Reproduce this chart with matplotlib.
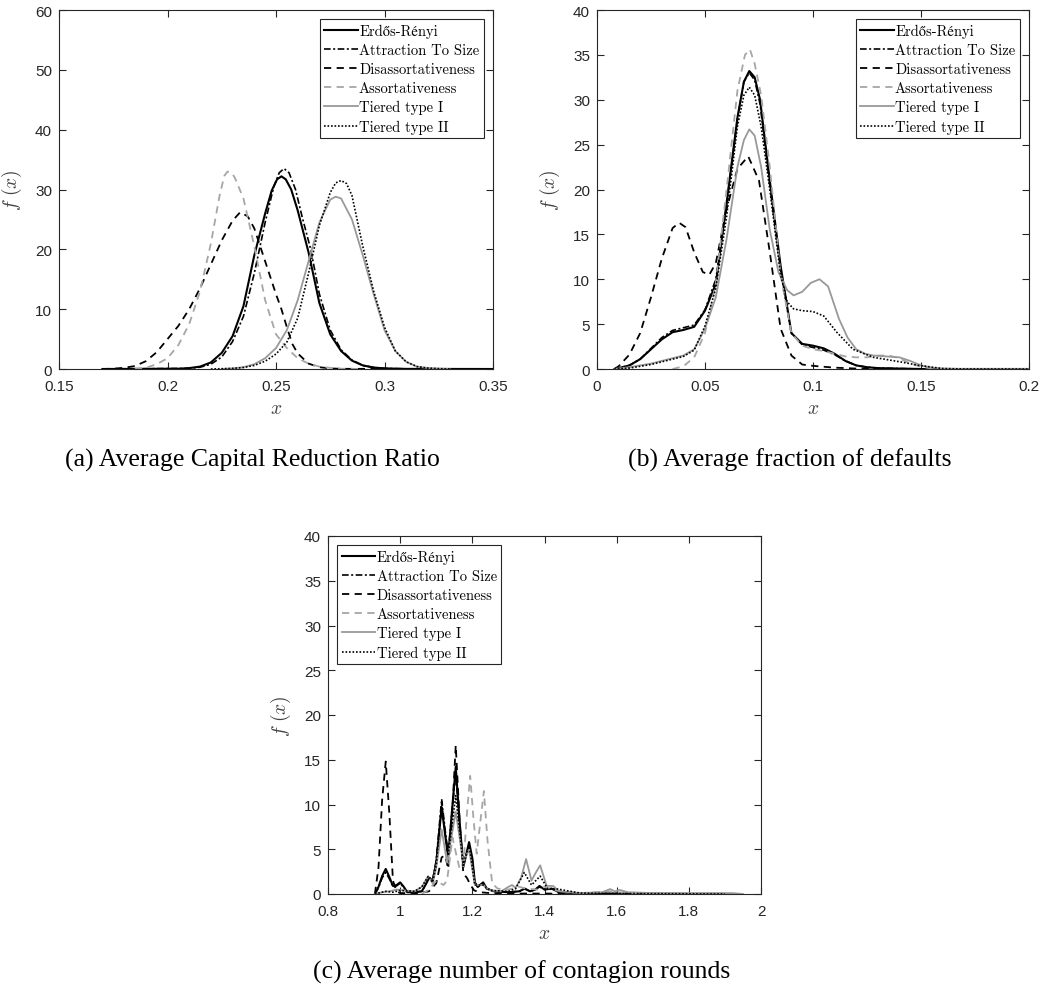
import matplotlib
matplotlib.use("Agg")
import matplotlib.pyplot as plt
from matplotlib.ticker import FixedLocator, FixedFormatter

plt.rcParams['mathtext.fontset'] = 'cm'
plt.rcParams['font.family'] = ['Liberation Sans', 'DejaVu Sans']

labels = ["Erdős-Rényi", "Attraction To Size", "Disassortativeness",
          "Assortativeness", "Tiered type I", "Tiered type II"]

# ---- (a) Average Capital Reduction Ratio ----
a_er_x = [0.17, 0.205, 0.21, 0.215, 0.22, 0.225, 0.23, 0.235, 0.24, 0.245, 0.248, 0.2505, 0.2525, 0.2545,
          0.257, 0.26, 0.265, 0.27, 0.275, 0.28, 0.285, 0.29, 0.295, 0.3, 0.31, 0.35]
a_er_y = [0, 0.05, 0.15, 0.4, 1.1, 2.7, 5.5, 10.5, 19, 26, 29.8, 31.7, 32.2, 31.7,
          30, 26.5, 19.5, 11, 5.8, 3.0, 1.4, 0.6, 0.25, 0.1, 0.02, 0]
a_ats_x = [0.17, 0.21, 0.215, 0.22, 0.225, 0.23, 0.235, 0.24, 0.245, 0.249, 0.2515, 0.2537, 0.256, 0.259,
           0.262, 0.266, 0.27, 0.275, 0.28, 0.285, 0.29, 0.295, 0.3, 0.31, 0.35]
a_ats_y = [0, 0.1, 0.3, 0.8, 2.0, 4.6, 8.8, 16.0, 24.5, 30.5, 32.8, 33.5, 32.8, 30,
           25.5, 20, 12.5, 6.5, 3.2, 1.5, 0.6, 0.25, 0.1, 0.02, 0]
a_dis_x = [0.17, 0.175, 0.18, 0.185, 0.19, 0.195, 0.2, 0.205, 0.21, 0.215, 0.22, 0.225, 0.23, 0.2335,
           0.237, 0.24, 0.245, 0.25, 0.2525, 0.255, 0.2575, 0.26, 0.265, 0.27, 0.275, 0.28, 0.35]
a_dis_y = [0, 0.05, 0.2, 0.5, 1.3, 2.8, 5, 7.2, 10, 13.5, 17.5, 21.5, 24.8, 26.2,
           25.5, 23.5, 18, 12.5, 10, 7, 4.2, 2.6, 0.9, 0.3, 0.1, 0.03, 0]
a_ass_x = [0.185, 0.19, 0.195, 0.2, 0.205, 0.21, 0.215, 0.22, 0.224, 0.2262, 0.2277, 0.2295, 0.231, 0.235,
           0.24, 0.245, 0.25, 0.255, 0.26, 0.265, 0.27, 0.275, 0.28, 0.29]
a_ass_y = [0, 0.2, 0.8, 1.8, 4, 7.5, 13, 21, 29, 32.3, 33, 32.8, 32.0, 28.5,
           20.5, 11.5, 5.8, 3.5, 1.8, 0.9, 0.4, 0.2, 0.05, 0]
a_t1_x = [0.225, 0.23, 0.235, 0.24, 0.245, 0.25, 0.255, 0.26, 0.265, 0.27, 0.275, 0.2775, 0.28, 0.285,
          0.29, 0.295, 0.3, 0.305, 0.31, 0.315, 0.32, 0.325, 0.33]
a_t1_y = [0, 0.1, 0.3, 0.8, 1.8, 3.5, 6.5, 11.5, 18, 24.5, 28.3, 28.8, 28.5, 25,
          19, 12.5, 6.5, 3, 1.2, 0.4, 0.15, 0.05, 0]
a_t2_x = [0.22, 0.225, 0.23, 0.235, 0.24, 0.245, 0.25, 0.255, 0.26, 0.265, 0.27, 0.275, 0.2775, 0.28,
          0.2825, 0.285, 0.29, 0.295, 0.3, 0.305, 0.31, 0.315, 0.32, 0.325, 0.33, 0.35]
a_t2_y = [0, 0.05, 0.1, 0.25, 0.6, 1.3, 2.5, 4.5, 8.5, 16, 24, 29.5, 31.1, 31.5,
          31.0, 29, 20.5, 13, 7, 3, 1.2, 0.4, 0.15, 0.05, 0.02, 0]

# ---- (b) Average fraction of defaults ----
b_er_x = [0.008, 0.01, 0.015, 0.02, 0.025, 0.03, 0.035, 0.04, 0.045, 0.05, 0.055, 0.06, 0.065, 0.068,
          0.0705, 0.073, 0.0755, 0.08, 0.085, 0.09, 0.095, 0.1, 0.105, 0.11, 0.115, 0.12, 0.125, 0.13,
          0.14, 0.15, 0.2]
b_er_y = [0, 0.1, 0.4, 1.1, 2.2, 3.3, 4.1, 4.35, 4.7, 6.5, 9.5, 18.5, 28.0, 32.0,
          33.2, 32.5, 30.0, 21.0, 11.5, 4.0, 2.8, 2.6, 2.3, 1.7, 0.9, 0.4, 0.2, 0.1,
          0.05, 0, 0]
b_ats_y = [0, 0.1, 0.4, 1.1, 2.3, 3.5, 4.3, 4.6, 4.9, 6.6, 10.0, 18.3, 27.8, 32.0,
           33.0, 32.2, 29.5, 20.5, 11.0, 4.0, 2.7, 2.4, 2.1, 1.6, 0.9, 0.4, 0.2, 0.1,
           0.05, 0, 0]
b_dis_x = [0.008, 0.01, 0.015, 0.02, 0.025, 0.03, 0.035, 0.038, 0.041, 0.045, 0.049, 0.052, 0.055, 0.06,
           0.065, 0.07, 0.075, 0.08, 0.085, 0.09, 0.095, 0.1, 0.11, 0.12, 0.13, 0.2]
b_dis_y = [0, 0.3, 1.6, 4.0, 8.0, 12.3, 15.7, 16.3, 15.8, 13.0, 10.8, 10.5, 11.8, 17.8,
           22.3, 23.7, 21.0, 13.0, 4.5, 1.5, 0.5, 0.35, 0.15, 0.05, 0, 0]
b_ass_x = [0.035, 0.04, 0.045, 0.05, 0.055, 0.06, 0.065, 0.0685, 0.0708, 0.073, 0.076, 0.08, 0.085, 0.09,
           0.095, 0.1, 0.105, 0.11, 0.115, 0.12, 0.125, 0.13, 0.135, 0.14, 0.145, 0.15, 0.155, 0.16]
b_ass_y = [0, 0.3, 1.3, 4, 9.5, 20, 31, 35, 35.6, 34, 30.5, 22.5, 10.5, 4,
           2.6, 2.2, 2.0, 1.7, 1.4, 1.3, 1.3, 1.5, 1.5, 1.2, 0.6, 0.25, 0.05, 0]
b_t1_x = [0.008, 0.015, 0.02, 0.025, 0.03, 0.035, 0.04, 0.045, 0.05, 0.055, 0.06, 0.065, 0.068, 0.0705,
          0.073, 0.076, 0.08, 0.084, 0.088, 0.091, 0.095, 0.099, 0.103, 0.107, 0.112, 0.116, 0.12, 0.124,
          0.128, 0.134, 0.14, 0.145, 0.15, 0.155, 0.16, 0.17, 0.2]
b_t1_y = [0, 0.2, 0.4, 0.6, 0.9, 1.2, 1.5, 2.2, 4.5, 8.0, 14.5, 22.5, 25.5, 26.7,
          26.0, 22.5, 15.5, 10.8, 8.8, 8.2, 8.6, 9.6, 10.0, 9.2, 5.6, 3.5, 2.2, 1.7,
          1.5, 1.4, 1.3, 0.9, 0.4, 0.15, 0.05, 0, 0]
b_t2_x = [0.008, 0.015, 0.02, 0.025, 0.03, 0.035, 0.04, 0.045, 0.05, 0.055, 0.06, 0.065, 0.068, 0.0705,
          0.073, 0.076, 0.08, 0.085, 0.088, 0.091, 0.095, 0.1, 0.105, 0.111, 0.1185, 0.128, 0.1415, 0.149,
          0.16, 0.17, 0.2]
b_t2_y = [0, 0.1, 0.3, 0.5, 0.8, 1.1, 1.4, 2.1, 4.8, 9.0, 17.0, 27.0, 30.5, 31.4,
          30.5, 27.0, 20.0, 10.5, 7.5, 6.7, 6.5, 6.4, 5.9, 4.1, 2.2, 1.3, 0.75, 0.4,
          0.05, 0, 0]

# ---- (c) Average number of contagion rounds ----
c_er_x = [0.93, 0.94, 0.95, 0.96, 0.97, 0.98, 0.99, 1.0, 1.01, 1.02, 1.04, 1.06, 1.07, 1.08, 1.09, 1.1,
          1.115, 1.125, 1.133, 1.143, 1.154, 1.165, 1.175, 1.191, 1.2, 1.207, 1.215, 1.23, 1.24, 1.26,
          1.3, 1.33, 1.345, 1.36, 1.375, 1.386, 1.4, 1.42, 1.44, 1.5, 1.6, 1.9]
c_er_y = [0, 0.8, 2.0, 2.8, 1.9, 0.9, 1.0, 1.3, 0.8, 0.2, 0.2, 0.3, 1.0, 1.8, 1.5, 3.5,
          9.7, 6.5, 4.1, 9.0, 14.2, 8.0, 3.0, 5.8, 4.0, 1.3, 0.8, 1.3, 0.6, 0.3,
          0.2, 0.3, 0.6, 0.3, 0.5, 0.9, 0.5, 0.6, 0.2, 0.05, 0.05, 0]
c_ats_y = [0, 0.7, 1.8, 2.4, 1.7, 0.8, 0.9, 1.2, 0.7, 0.2, 0.2, 0.3, 1.0, 1.9, 1.5, 3.8,
           10.6, 7.0, 4.5, 9.0, 13.5, 7.5, 3.3, 5.5, 3.8, 1.2, 0.8, 1.2, 0.6, 0.3,
           0.2, 0.3, 0.6, 0.3, 0.5, 0.8, 0.5, 0.6, 0.2, 0.05, 0.05, 0]
c_dis_x = [0.93, 0.94, 0.95, 0.96, 0.97, 0.98, 0.99, 1.0, 1.05, 1.08, 1.1, 1.115, 1.125, 1.133, 1.143,
           1.154, 1.165, 1.175, 1.185, 1.195, 1.205, 1.22, 1.25, 1.3, 1.4, 1.6]
c_dis_y = [0, 3.0, 10.5, 14.8, 9.0, 1.5, 0.3, 0.1, 0.1, 0.3, 1.2, 4.1, 4.3, 2.8, 8.0,
           16.6, 8.0, 2.3, 1.8, 1.0, 0.4, 0.2, 0.1, 0.05, 0.05, 0]
c_ass_x = [1.06, 1.08, 1.1, 1.12, 1.13, 1.145, 1.155, 1.165, 1.175, 1.185, 1.194, 1.203, 1.212, 1.222,
           1.232, 1.242, 1.255, 1.27, 1.3, 1.33, 1.35, 1.38, 1.4, 1.43, 1.5, 1.58, 1.6, 1.7]
c_ass_y = [0, 0.5, 1.5, 1.0, 1.5, 6.3, 4.5, 2.8, 3.0, 9.0, 13.2, 8.5, 4.5, 8.0,
           11.5, 6.0, 1.2, 0.6, 0.5, 0.8, 0.6, 0.5, 0.8, 0.4, 0.1, 0.3, 0.2, 0]
c_t1_x = [0.93, 0.95, 0.97, 0.99, 1.01, 1.04, 1.06, 1.078, 1.09, 1.1, 1.115, 1.13, 1.154, 1.175, 1.191,
          1.207, 1.23, 1.25, 1.28, 1.3, 1.31, 1.32, 1.335, 1.349, 1.364, 1.376, 1.388, 1.406, 1.424,
          1.44, 1.5, 1.56, 1.582, 1.595, 1.609, 1.63, 1.7, 1.8, 1.92, 1.95]
c_t1_y = [0, 0.2, 0.3, 0.5, 0.4, 0.3, 0.8, 2.0, 1.2, 3.0, 7.2, 3.5, 9.2, 3.5, 5.0,
          1.0, 1.0, 0.4, 0.3, 0.8, 1.0, 0.7, 1.8, 3.9, 1.5, 2.4, 3.2, 0.9, 0.9,
          0.3, 0.1, 0.2, 0.55, 0.3, 0.45, 0.2, 0.1, 0.1, 0.1, 0]
c_t2_x = [0.93, 0.95, 0.96, 0.98, 1.0, 1.04, 1.06, 1.078, 1.09, 1.1, 1.115, 1.133, 1.154, 1.175, 1.191,
          1.207, 1.23, 1.25, 1.3, 1.32, 1.344, 1.364, 1.388, 1.41, 1.43, 1.5, 1.6, 1.9]
c_t2_y = [0, 0.2, 0.3, 0.2, 0.4, 0.3, 0.8, 2.0, 1.3, 3.2, 10.0, 4.3, 11.0, 3.2, 5.5,
          1.0, 1.0, 0.4, 0.3, 0.6, 2.4, 1.0, 2.0, 0.5, 0.6, 0.1, 0.05, 0]

a_xticks = [0.15, 0.2, 0.25, 0.3, 0.35]
a_xticklabels = ["0.15", "0.2", "0.25", "0.3", "0.35"]
a_yticks = [0, 10, 20, 30, 40, 50, 60]
b_xticks = [0, 0.05, 0.1, 0.15, 0.2]
b_xticklabels = ["0", "0.05", "0.1", "0.15", "0.2"]
b_yticks = [0, 5, 10, 15, 20, 25, 30, 35, 40]
c_xticks = [0.8, 1.0, 1.2, 1.4, 1.6, 1.8, 2.0]
c_xticklabels = ["0.8", "1", "1.2", "1.4", "1.6", "1.8", "2"]
c_yticks = [0, 5, 10, 15, 20, 25, 30, 35, 40]

captions = ["(a) Average Capital Reduction Ratio", "(b) Average fraction of defaults",
            "(c) Average number of contagion rounds"]

AX_COL = '#262626'
GRAY = '#999999'
styles = [
    dict(color='k', lw=1.5, ls='-'),
    dict(color='k', lw=1.2, ls=(0, (4, 1.5, 1.2, 1.5))),
    dict(color='k', lw=1.3, ls=(0, (4, 3))),
    dict(color='#a6a6a6', lw=1.3, ls=(0, (4, 3))),
    dict(color=GRAY, lw=1.3, ls='-'),
    dict(color='k', lw=1.2, ls=(0, (1, 1.1))),
]


def draw(ax, data, xlim, xticks, xticklabels, ylim, yticks, loc):
    for (xs, ys), lab, st in zip(data, labels, styles):
        ax.plot(xs, ys, label=lab, **st)
    ax.set_xlim(xlim)
    ax.set_ylim(ylim)
    ax.xaxis.set_major_locator(FixedLocator(xticks))
    ax.xaxis.set_major_formatter(FixedFormatter(xticklabels))
    ax.set_yticks(yticks)
    ax.set_yticklabels([str(v) for v in yticks])
    ax.tick_params(direction='in', top=True, right=True, length=5, width=0.8,
                   colors=AX_COL, labelsize=11)
    ax.tick_params(axis='x', pad=7)
    ax.tick_params(axis='y', pad=5)
    for s in ax.spines.values():
        s.set_color(AX_COL)
        s.set_linewidth(0.8)
    ax.set_xlabel(r'$x$', fontsize=14, color='#404040', labelpad=5)
    ax.set_ylabel(r'$f\ (x)$', fontsize=14, color='#404040', labelpad=8)
    leg = ax.legend(loc=loc, prop={'family': ['cmr10', 'STIXGeneral'], 'size': 10.5},
                    handlelength=2.3, handletextpad=0.1, labelspacing=0.36, borderpad=0.3,
                    borderaxespad=0.65, fancybox=False, framealpha=1, edgecolor=AX_COL)
    leg.get_frame().set_linewidth(0.8)


fig = plt.figure(figsize=(10.44, 9.95), dpi=100)
W, H = 1044.0, 995.0


def add_axes(l, r, t, b):
    return fig.add_axes([l / W, 1 - b / H, (r - l) / W, (b - t) / H])


ax_a = add_axes(59, 493, 11, 370)
draw(ax_a, [(a_er_x, a_er_y), (a_ats_x, a_ats_y), (a_dis_x, a_dis_y),
            (a_ass_x, a_ass_y), (a_t1_x, a_t1_y), (a_t2_x, a_t2_y)],
     (0.15, 0.35), a_xticks, a_xticklabels, (0, 60), a_yticks, 'upper right')

ax_b = add_axes(597, 1029, 11, 370)
draw(ax_b, [(b_er_x, b_er_y), (b_er_x, b_ats_y), (b_dis_x, b_dis_y),
            (b_ass_x, b_ass_y), (b_t1_x, b_t1_y), (b_t2_x, b_t2_y)],
     (0, 0.2), b_xticks, b_xticklabels, (0, 40), b_yticks, 'upper right')

ax_c = add_axes(328, 761, 537, 895)
draw(ax_c, [(c_er_x, c_er_y), (c_er_x, c_ats_y), (c_dis_x, c_dis_y),
            (c_ass_x, c_ass_y), (c_t1_x, c_t1_y), (c_t2_x, c_t2_y)],
     (0.8, 2.0), c_xticks, c_xticklabels, (0, 40), c_yticks, 'upper left')

cap_font = dict(family=['Liberation Serif', 'DejaVu Serif'], size=18.5, ha='center', va='center')
fig.text(252 / W, 1 - 460 / H, captions[0], **cap_font)
fig.text(790 / W, 1 - 460 / H, captions[1], **cap_font)
fig.text(522 / W, 1 - 972 / H, captions[2], **cap_font)

fig.savefig("out.png", dpi=100)
